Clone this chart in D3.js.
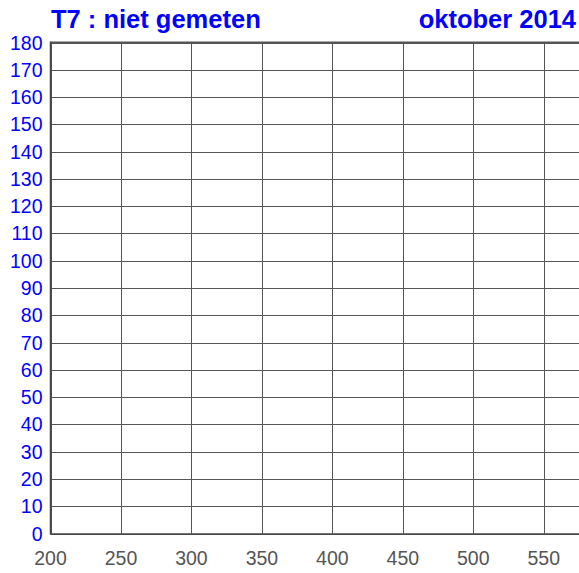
<!DOCTYPE html>
<html>
<head>
<meta charset="utf-8">
<script src="https://cdn.jsdelivr.net/npm/d3@7"></script>
<style>
  body { margin: 0; background: #fff; }
  svg { display: block; font-family: 'Liberation Sans', Arial, sans-serif; }
</style>
</head>
<body>
<svg id="chart" width="579" height="573"></svg>
<script>
// chart texts and axis values
var titleLeft = 'T7 : niet gemeten';
var titleRight = 'oktober 2014';
var xDomain = [200, 575];
var xTicks = [200, 250, 300, 350, 400, 450, 500, 550];
var yDomain = [0, 180];
var yTicks = [0, 10, 20, 30, 40, 50, 60, 70, 80, 90, 100, 110, 120, 130, 140, 150, 160, 170, 180];

var plotLeft = 50.5, plotRight = 579, plotTop = 42.5, plotBottom = 533.5;

var x = d3.scaleLinear().domain(xDomain).range([plotLeft, plotRight]);
var y = d3.scaleLinear().domain(yDomain).range([plotBottom, plotTop]);

var svg = d3.select('#chart');

// grid
svg.append('g')
  .selectAll('line')
  .data(yTicks)
  .enter()
  .append('line')
  .attr('x1', plotLeft).attr('x2', plotRight)
  .attr('y1', function(d){ return Math.round(y(d)) + 0.5 })
  .attr('y2', function(d){ return Math.round(y(d)) + 0.5 })
  .attr('stroke', '#555')
  .attr('stroke-width', 1);

svg.append('g')
  .selectAll('line')
  .data(xTicks)
  .enter()
  .append('line')
  .attr('x1', function(d){ return Math.round(x(d)) + 0.5 })
  .attr('x2', function(d){ return Math.round(x(d)) + 0.5 })
  .attr('y1', plotTop).attr('y2', plotBottom)
  .attr('stroke', '#555')
  .attr('stroke-width', 1);

// frame: top, left, bottom
svg.append('line')
  .attr('x1', plotLeft).attr('x2', plotRight).attr('y1', plotTop).attr('y2', plotTop)
  .attr('stroke', '#555').attr('stroke-width', 2);
svg.append('line')
  .attr('x1', plotLeft).attr('x2', plotRight).attr('y1', plotBottom + 0.5).attr('y2', plotBottom + 0.5)
  .attr('stroke', '#444').attr('stroke-width', 1.5);
svg.append('line')
  .attr('x1', plotLeft).attr('x2', plotLeft).attr('y1', plotTop - 1).attr('y2', plotBottom + 1)
  .attr('stroke', '#444').attr('stroke-width', 1.5);

// y labels
svg.append('g')
  .selectAll('text')
  .data(yTicks)
  .enter()
  .append('text')
  .attr('x', 42.5)
  .attr('y', function(d){ return y(d) })
  .attr('dy', '0.36em')
  .attr('text-anchor', 'end')
  .style('font-size', '19.5px')
  .style('fill', '#0000ff')
  .text(function(d){ return d });

// x labels
svg.append('g')
  .selectAll('text')
  .data(xTicks)
  .enter()
  .append('text')
  .attr('x', function(d){ return x(d) })
  .attr('y', 565)
  .attr('text-anchor', 'middle')
  .style('font-size', '19.5px')
  .style('fill', '#555')
  .text(function(d){ return d });

// titles
svg.append('text')
  .attr('x', 51)
  .attr('y', 27.5)
  .style('font-size', '25.5px')
  .style('font-weight', 'bold')
  .style('fill', '#0000ff')
  .text(titleLeft);

svg.append('text')
  .attr('x', 576)
  .attr('y', 27.5)
  .attr('text-anchor', 'end')
  .style('font-size', '25.5px')
  .style('font-weight', 'bold')
  .style('fill', '#0000ff')
  .text(titleRight);
</script>
</body>
</html>
